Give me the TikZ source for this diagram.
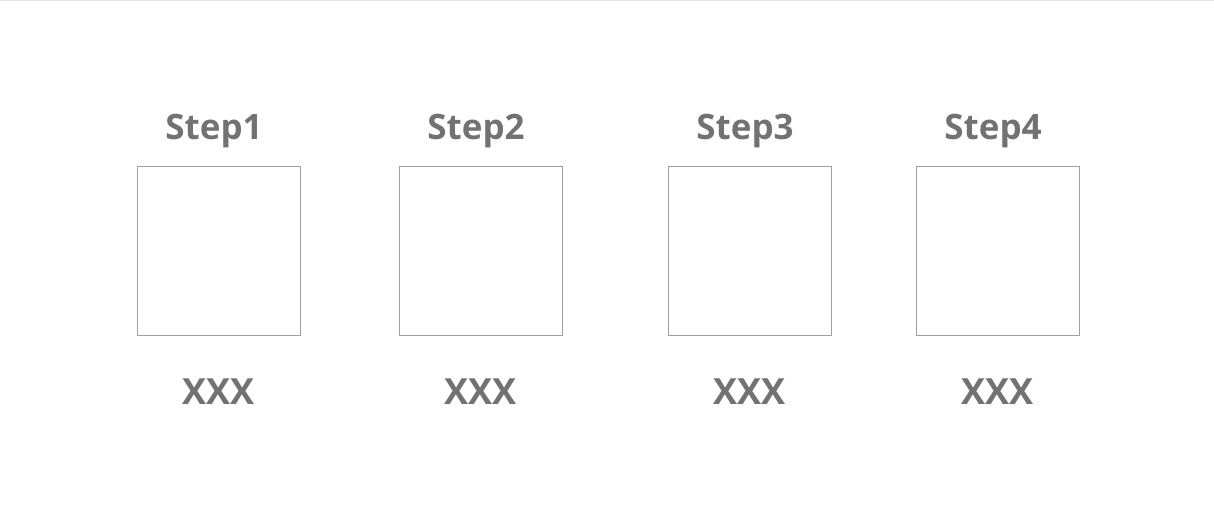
\documentclass[tikz,border=0pt]{standalone}
\usepackage{fontspec}
\setmainfont{Open Sans}
\definecolor{txtgray}{HTML}{727272}
\definecolor{boxgray}{HTML}{A0A0A0}
\definecolor{topline}{HTML}{E3E3E3}
\begin{document}
\begin{tikzpicture}[x=1pt,y=-1pt,
  stepbox/.style={draw=boxgray,line width=0.9pt,minimum width=163pt,minimum height=169pt,inner sep=0pt},
  steptitle/.style={text=txtgray,font=\fontsize{35}{40}\selectfont\bfseries,inner sep=0pt,anchor=base},
  caption/.style={text=txtgray,font=\fontsize{36}{40}\selectfont\bfseries,inner sep=0pt,anchor=base}]
\useasboundingbox (0,0) rectangle (1214,508);
\fill[topline] (0,0) rectangle (1214,1.5);
\foreach \i/\cx in {1/218.5,2/480.5,3/749.5,4/997.5}{
  \node[stepbox] (box\i) at (\cx,250.5) {};
  \node[steptitle] (title\i) at (\cx-4.5,139.5) {Step\i};
  \node[caption] (cap\i) at (\cx,404) {XXX};
}
\end{tikzpicture}
\end{document}
